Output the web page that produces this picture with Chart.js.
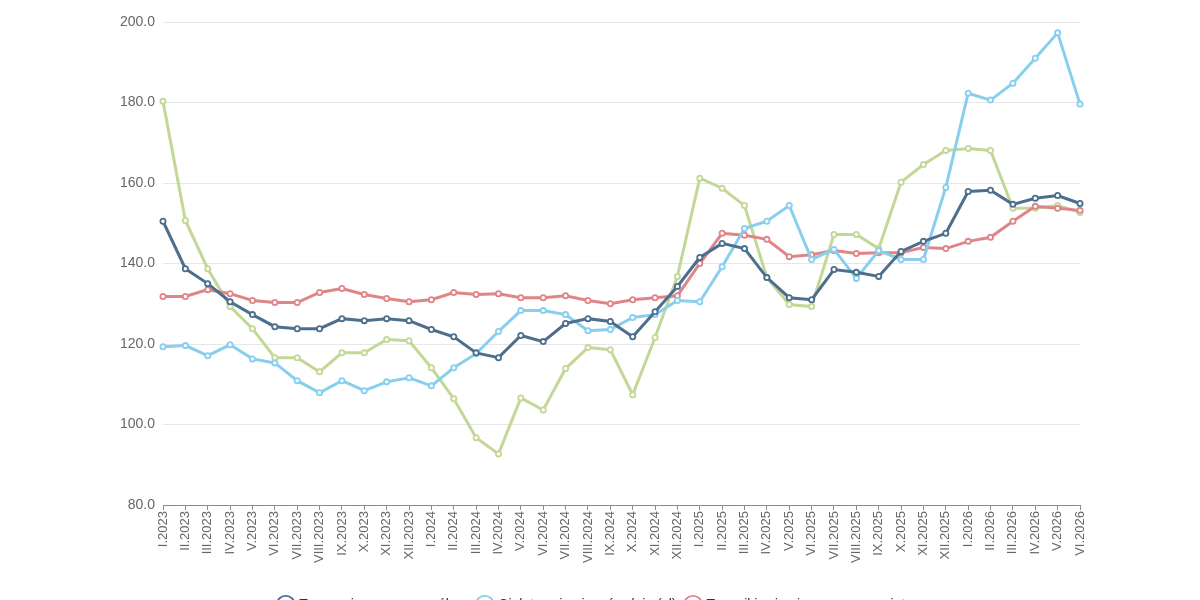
<!DOCTYPE html>
<html>
<head>
<meta charset="utf-8">
<script src="https://cdn.jsdelivr.net/npm/chart.js@4.4.1/dist/chart.umd.min.js"></script>
<style>
html, body { margin: 0; padding: 0; overflow: hidden; background: #ffffff; }
#wrap { position: relative; width: 1200px; height: 646px; }
</style>
</head>
<body>
<div id="wrap"><canvas id="c"></canvas></div>
<script>
const categories = [
  "I.2023","II.2023","III.2023","IV.2023","V.2023","VI.2023","VII.2023","VIII.2023","IX.2023","X.2023","XI.2023","XII.2023",
  "I.2024","II.2024","III.2024","IV.2024","V.2024","VI.2024","VII.2024","VIII.2024","IX.2024","X.2024","XI.2024","XII.2024",
  "I.2025","II.2025","III.2025","IV.2025","V.2025","VI.2025","VII.2025","VIII.2025","IX.2025","X.2025","XI.2025","XII.2025",
  "I.2026","II.2026","III.2026","IV.2026","V.2026","VI.2026"
];
const seriesNames = [
  "Tusze wieprzowe – ogółem",
  "Cielęta – żywiec, średnio (zł)",
  "Tuczniki – żywiec, ceny przeciętne",
  "Zboża – ceny skupu ogółem, przeciętne w kraju"
];
const darkBlue = [150.5,138.7,135.0,130.5,127.3,124.3,123.8,123.8,126.3,125.8,126.3,125.8,
  123.6,121.8,117.8,116.6,122.1,120.6,125.1,126.3,125.6,121.8,128.0,134.3,
  141.5,145.0,143.7,136.5,131.5,131.0,138.5,137.8,136.8,143.0,145.5,147.5,
  157.9,158.2,154.7,156.2,156.9,154.9];
const lightBlue = [119.3,119.6,117.1,119.8,116.3,115.3,110.9,107.9,110.9,108.4,110.6,111.6,
  109.6,114.1,117.6,123.1,128.3,128.3,127.3,123.3,123.6,126.6,127.3,130.8,
  130.5,139.2,148.7,150.5,154.4,141.0,143.5,136.3,143.2,141.0,141.0,158.9,
  182.3,180.6,184.8,191.0,197.3,179.6];
const red = [131.8,131.8,133.5,132.5,130.8,130.3,130.3,132.8,133.8,132.3,131.3,130.5,
  131.0,132.8,132.3,132.5,131.5,131.5,132.0,130.8,130.0,131.0,131.5,132.0,
  140.0,147.5,147.0,146.0,141.7,142.2,143.2,142.5,142.7,142.7,144.0,143.7,
  145.5,146.5,150.5,154.2,153.7,153.2];
const green = [180.3,150.7,138.7,129.3,123.8,116.6,116.6,113.1,117.8,117.8,121.1,120.8,
  114.1,106.4,96.7,92.7,106.6,103.6,113.9,119.1,118.6,107.4,121.6,136.8,
  161.2,158.7,154.4,136.5,129.8,129.3,147.2,147.2,143.7,160.2,164.6,168.1,
  168.6,168.1,153.7,153.7,154.4,152.7];
const yTicks = [80, 100, 120, 140, 160, 180, 200];

const colors = ["#4b6f8d", "#86cfee", "#e08587", "#c3d796"];
const values = [darkBlue, lightBlue, red, green];

const datasets = values.map((v, i) => ({
  label: seriesNames[i],
  data: v,
  borderColor: colors[i],
  backgroundColor: "#ffffff",
  borderWidth: 3,
  pointRadius: 2.6,
  pointBorderWidth: 1.8,
  pointBackgroundColor: "#ffffff",
  pointBorderColor: colors[i],
  tension: 0,
  fill: false,
  yAxisID: "y"
}));

// Make the legend's first row hold three items (the fourth wraps below the visible page).
const LEGEND_ROW_MAX = 760;
const LegendEl = Chart.Legend && Chart.Legend._element;
if (LegendEl && LegendEl.prototype) {
  const origFitRows = LegendEl.prototype._fitRows;
  LegendEl.prototype._fitRows = function () {
    const saved = this.maxWidth;
    this.maxWidth = Math.min(saved, LEGEND_ROW_MAX);
    try { return origFitRows.apply(this, arguments); }
    finally { this.maxWidth = saved; }
  };
}

new Chart(document.getElementById("c"), {
  type: "line",
  data: { labels: categories, datasets },
  options: {
    responsive: true,
    maintainAspectRatio: false,
    animation: false,
    layout: { padding: { top: 22, right: 0, left: 0, bottom: 0 } },
    plugins: {
      tooltip: { enabled: false },
      legend: {
        position: "bottom",
        labels: {
          usePointStyle: true,
          pointStyle: "circle",
          boxWidth: 13,
          boxHeight: 13,
          padding: 10,
          color: "#333",
          font: { family: "Liberation Sans, Arial, sans-serif", size: 14 }
        }
      }
    },
    scales: {
      x: {
        afterFit(scale) { scale.height = 83; },
        grid: { display: true, drawOnChartArea: false, drawTicks: true, tickLength: 5, color: "#8c8c8c", lineWidth: 1 },
        border: { display: true, color: "#8c8c8c", width: 1 },
        ticks: {
          autoSkip: false, minRotation: 90, maxRotation: 90, padding: 1, color: "#666666",
          font: { family: "Liberation Sans, Arial, sans-serif", size: 13 }
        }
      },
      y: {
        min: 80, max: 200,
        afterFit(scale) { scale.width = 163; },
        afterBuildTicks(scale) { scale.ticks = yTicks.map(v => ({ value: v })); },
        grid: { color: "#e6e6e6", lineWidth: 1, drawTicks: false },
        border: { display: false },
        ticks: {
          padding: 8, color: "#666666",
          font: { family: "Liberation Sans, Arial, sans-serif", size: 14 },
          callback: (v) => Number(v).toFixed(1)
        }
      },
      yRight: {
        position: "right",
        min: 80, max: 200,
        afterFit(scale) { scale.width = 120; },
        grid: { display: false, drawTicks: false },
        border: { display: false },
        ticks: { display: false }
      }
    }
  }
});
</script>
</body>
</html>
